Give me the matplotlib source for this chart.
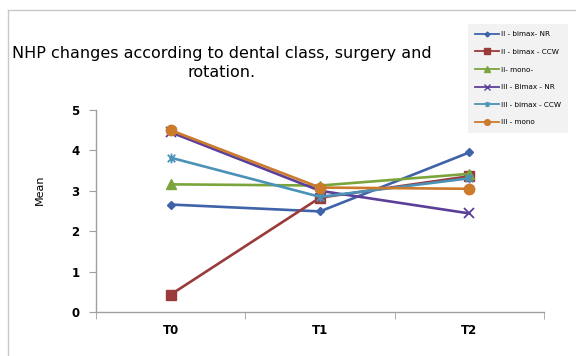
import matplotlib
matplotlib.use("Agg")
import matplotlib.pyplot as plt
from matplotlib.path import Path
from matplotlib.lines import Line2D

# Time points and mean NHP values per group
categories = ["T0", "T1", "T2"]
series_names = ["II - bimax- NR", "II - bimax - CCW", "II- mono-",
                "III - Bimax - NR", "III - bimax - CCW", "III - mono"]
ii_bimax_nr = [2.66, 2.49, 3.95]
ii_bimax_ccw = [0.43, 2.83, 3.36]
ii_mono = [3.16, 3.13, 3.42]
iii_bimax_nr = [4.45, 3.00, 2.44]
iii_bimax_ccw = [3.82, 2.85, 3.31]
iii_mono = [4.50, 3.08, 3.05]
y_ticks = [0, 1, 2, 3, 4, 5]

# asterisk marker: an x crossed by a vertical bar
star_marker = Path(
    [(-1, -1), (1, 1), (-1, 1), (1, -1), (0, -1.3), (0, 1.3)],
    [Path.MOVETO, Path.LINETO, Path.MOVETO, Path.LINETO, Path.MOVETO, Path.LINETO],
)

styles = [
    dict(color="#3F62A8", marker="D", ms=4.5),
    dict(color="#9B3A3A", marker="s", ms=7),
    dict(color="#7BA53C", marker="^", ms=7),
    dict(color="#5B3F99", marker="x", ms=7, mew=1.3),
    dict(color="#4A92B8", marker=star_marker, ms=7, mew=1.3),
    dict(color="#CC7A2C", marker="o", ms=7.5),
]
values = [ii_bimax_nr, ii_bimax_ccw, ii_mono, iii_bimax_nr, iii_bimax_ccw, iii_mono]

fig = plt.figure(figsize=(5.76, 3.56), dpi=100)
ax = fig.add_axes([96 / 576, 1 - 312 / 356, (544 - 96) / 576, (312 - 110) / 356])

x = list(range(len(categories)))
handles = []
for name, vals, st in zip(series_names, values, styles):
    ax.plot(x, vals, color=st["color"], lw=1.9, marker=st["marker"],
            ms=st["ms"], mew=st.get("mew", 1.0), mfc=st["color"],
            mec=st["color"], label=name, zorder=3)
    handles.append(Line2D([0], [0], color=st["color"], lw=1.3, marker=st["marker"],
                          ms=st["ms"] * 0.55, mew=1.0, mfc=st["color"], mec=st["color"]))

ax.set_xlim(-0.5, 2.5)
ax.set_ylim(0, 5)
ax.set_yticks(y_ticks)
ax.set_xticks(x)
ax.set_xticklabels(categories, fontsize=8.5, fontweight="bold")
ax.set_yticklabels([str(t) for t in y_ticks], fontsize=8.5, fontweight="bold")
ax.set_xticks([-0.5, 0.5, 1.5, 2.5], minor=True)
ax.tick_params(axis="x", which="major", length=0, pad=9)
ax.tick_params(axis="x", which="minor", length=5, color="#A0A0A0")
ax.tick_params(axis="y", length=5, color="#A0A0A0", pad=7)
for s in ["top", "right"]:
    ax.spines[s].set_visible(False)
for s in ["left", "bottom"]:
    ax.spines[s].set_color("#A0A0A0")
    ax.spines[s].set_linewidth(1.0)

fig.text(40 / 576, 1 - 190 / 356, "Mean", rotation=90, fontsize=8,
         ha="center", va="center")

fig.text(222 / 576, 1 - 46 / 356,
         "NHP changes according to dental class, surgery and\nrotation.",
         fontsize=11.5, ha="center", va="top", linespacing=1.3)

leg = fig.legend(handles, series_names, loc="upper left",
                 bbox_to_anchor=(468 / 576, 1 - 24 / 356), fontsize=5.2,
                 frameon=True, handlelength=3.3, handletextpad=0.3,
                 labelspacing=1.6, borderpad=1.0, borderaxespad=0)
leg.get_frame().set_facecolor("#F2F2F2")
leg.get_frame().set_edgecolor("none")
leg.get_frame().set_alpha(1)

# outer chart frame
fig.add_artist(Line2D([8 / 576, 8 / 576], [0, 1 - 10 / 356], color="#C8C8C8", lw=1.0))
fig.add_artist(Line2D([8 / 576, 1], [1 - 10 / 356, 1 - 10 / 356], color="#C8C8C8", lw=1.0))

fig.savefig("out.png", dpi=100)
